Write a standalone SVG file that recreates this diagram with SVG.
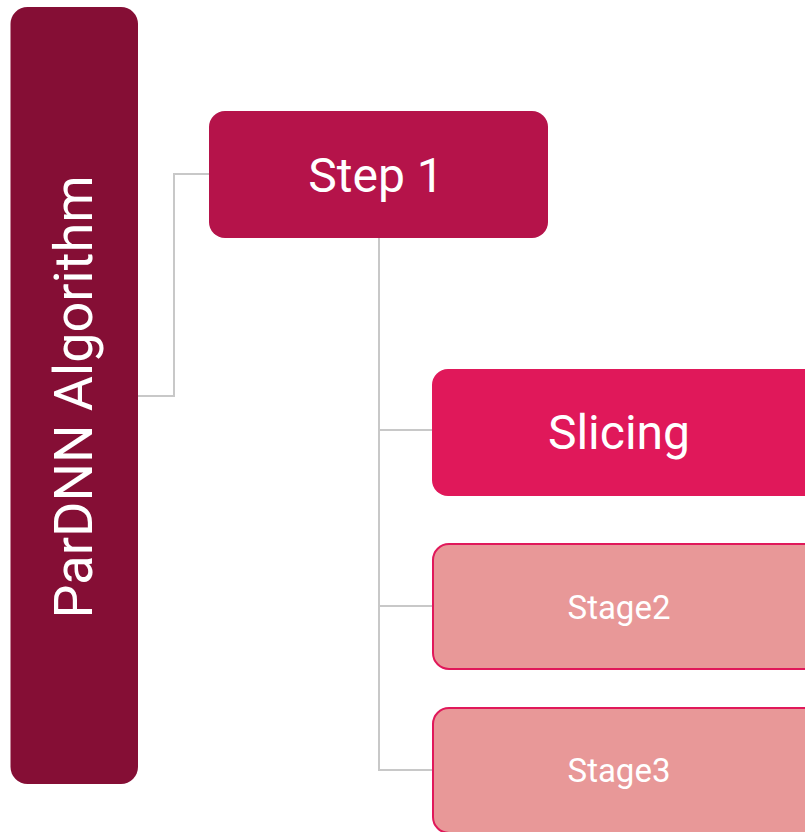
<svg xmlns="http://www.w3.org/2000/svg" width="805" height="832" viewBox="0 0 805 832">
  <style>
    .label { font-family: Roboto, "Liberation Sans", sans-serif; fill: #ffffff; text-anchor: middle; }
    .link { fill: none; stroke: #c8c8c8; stroke-width: 2; }
  </style>
  <rect width="805" height="832" fill="#ffffff"/>

  <!-- connectors -->
  <g id="connectors">
    <polyline class="link" points="138,396 174,396 174,174 209,174"/>
    <polyline class="link" points="379,238 379,770 432,770"/>
    <line class="link" x1="379" y1="430" x2="432" y2="430"/>
    <line class="link" x1="379" y1="606" x2="432" y2="606"/>
  </g>

  <g id="root">
    <rect x="10.5" y="7" width="127.5" height="777" rx="17" fill="#850e35"/>
    <text class="label" transform="translate(92,397) rotate(-90)" font-size="54">ParDNN Algorithm</text>
  </g>

  <g id="step1">
    <rect x="209" y="111" width="339" height="127" rx="16" fill="#b5134a"/>
    <text class="label" x="376" y="192" font-size="48">Step 1</text>
  </g>

  <g id="slicing">
    <rect x="432" y="369" width="390" height="127" rx="16" fill="#e0185a"/>
    <text class="label" x="619" y="449" font-size="48">Slicing</text>
  </g>

  <g id="stage2">
    <rect x="433" y="544" width="390" height="125" rx="16" fill="#e89898" stroke="#e0185a" stroke-width="2"/>
    <text class="label" x="619" y="619" font-size="33">Stage2</text>
  </g>

  <g id="stage3">
    <rect x="433" y="708" width="390" height="125" rx="16" fill="#e89898" stroke="#e0185a" stroke-width="2"/>
    <text class="label" x="619" y="782" font-size="33">Stage3</text>
  </g>
</svg>
